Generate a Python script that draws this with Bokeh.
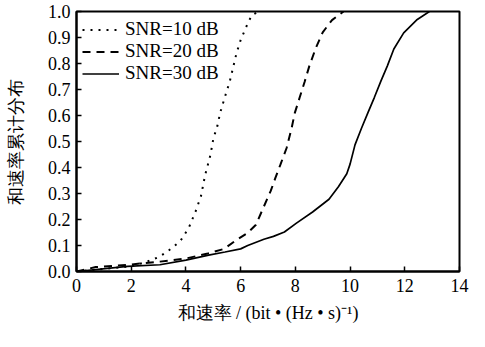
from bokeh.plotting import figure
from bokeh.models import Range1d, FixedTicker, Legend, LegendItem, CustomJSTickFormatter
from bokeh.embed import file_html
from bokeh.resources import INLINE

snr10_x = [0, 1, 2, 2.5, 3, 3.3, 3.6, 3.8, 4.1, 4.35, 4.55, 4.7, 4.9, 5.0, 5.15, 5.25, 5.45, 5.6, 5.85, 6.0, 6.2, 6.4, 6.65]
snr10_y = [0, 0.01, 0.02, 0.035, 0.055, 0.075, 0.10, 0.118, 0.167, 0.23, 0.29, 0.37, 0.45, 0.51, 0.56, 0.61, 0.68, 0.73, 0.84, 0.89, 0.94, 0.985, 1.0]

snr20_x = [0, 0.7, 1.9, 3.05, 4.0, 4.8, 5.4, 5.8, 6.26, 6.56, 6.85, 7.1, 7.27, 7.45, 7.68, 7.86, 7.98, 8.16, 8.34, 8.51, 8.75, 9.0, 9.34, 9.76]
snr20_y = [0, 0.017, 0.026, 0.038, 0.05, 0.069, 0.087, 0.118, 0.149, 0.18, 0.25, 0.31, 0.36, 0.41, 0.475, 0.55, 0.61, 0.67, 0.73, 0.79, 0.86, 0.92, 0.967, 1.0]

snr30_x = [0, 1.86, 3.05, 4.0, 4.83, 5.43, 6.0, 6.26, 6.85, 7.2, 7.6, 8.04, 8.63, 9.23, 9.58, 9.88, 10.0, 10.18, 10.41, 10.65, 10.89, 11.13, 11.36, 11.6, 11.96, 12.43, 12.9]
snr30_y = [0, 0.02, 0.026, 0.044, 0.063, 0.075, 0.087, 0.10, 0.124, 0.135, 0.152, 0.186, 0.229, 0.278, 0.327, 0.376, 0.413, 0.487, 0.549, 0.61, 0.67, 0.733, 0.79, 0.856, 0.918, 0.967, 1.0]

labels = ["SNR=10 dB", "SNR=20 dB", "SNR=30 dB"]
x_ticks = [0, 2, 4, 6, 8, 10, 12, 14]
y_ticks = [0.0, 0.1, 0.2, 0.3, 0.4, 0.5, 0.6, 0.7, 0.8, 0.9, 1.0]

FONT = "Liberation Serif"

p = figure(frame_width=383, frame_height=260, output_backend="svg", toolbar_location=None,
           x_range=Range1d(0, 14), y_range=Range1d(0, 1.0),
           min_border_left=76, min_border_right=10, min_border_top=11, min_border_bottom=60)

p.background_fill_color = "white"
p.border_fill_color = "white"
p.grid.visible = False
p.outline_line_color = "black"
p.outline_line_width = 2

r1 = p.line(snr10_x, snr10_y, line_color="black", line_width=2, line_dash="2 6")
r2 = p.line(snr20_x, snr20_y, line_color="black", line_width=2, line_dash="8 6")
r3 = p.line(snr30_x, snr30_y, line_color="black", line_width=1.7)

for ax in (p.xaxis[0], p.yaxis[0]):
    ax.axis_line_width = 2
    ax.axis_line_color = "black"
    ax.major_tick_in = 5
    ax.major_tick_out = 0
    ax.major_tick_line_width = 1.5
    ax.minor_tick_line_color = None
    ax.major_label_text_font = FONT
    ax.major_label_text_font_size = "18px"
    ax.major_label_text_color = "black"
    ax.axis_label_text_font = FONT
    ax.axis_label_text_font_size = "18px"
    ax.axis_label_text_font_style = "normal"
    ax.axis_label_text_color = "black"

p.xaxis.major_label_standoff = 7
p.yaxis.major_label_standoff = 6
p.xaxis.ticker = FixedTicker(ticks=x_ticks)
p.yaxis.ticker = FixedTicker(ticks=y_ticks)
p.yaxis.formatter = CustomJSTickFormatter(code="return tick.toFixed(1);")
p.xaxis.axis_label = "和速率 / (bit • (Hz • s)⁻¹)"
p.yaxis.axis_label = "和速率累计分布"
p.xaxis.axis_label_standoff = 8
p.yaxis.axis_label_standoff = 19

legend = Legend(items=[LegendItem(label=labels[0], renderers=[r1]),
                       LegendItem(label=labels[1], renderers=[r2]),
                       LegendItem(label=labels[2], renderers=[r3])],
                location=(6, 187))
legend.background_fill_alpha = 0
legend.border_line_color = None
legend.label_text_font = FONT
legend.label_text_font_size = "19px"
legend.label_text_color = "black"
legend.glyph_width = 37
legend.glyph_height = 21
legend.label_height = 21
legend.spacing = 0
legend.padding = 4
legend.margin = 0
legend.label_standoff = 6
p.add_layout(legend)

open("out.html", "w").write(file_html(p, INLINE))
